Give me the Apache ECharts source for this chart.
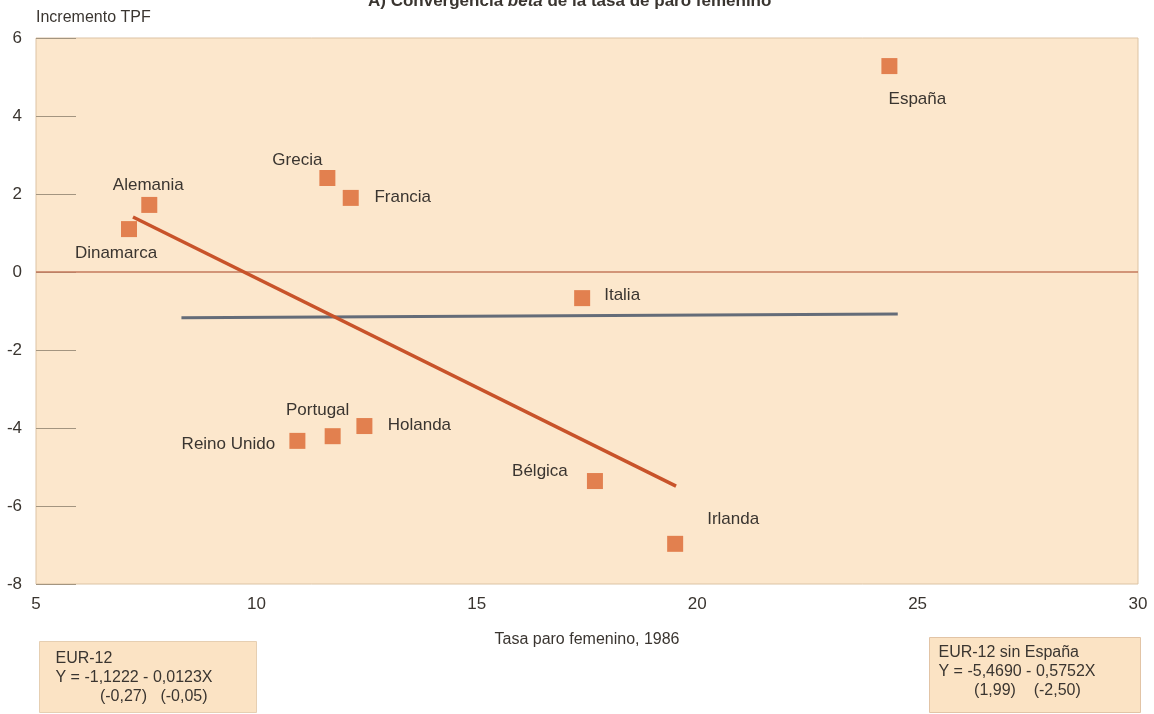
<!DOCTYPE html>
<html>
<head>
<meta charset="utf-8">
<script src="https://cdn.jsdelivr.net/npm/echarts@6/dist/echarts.min.js"></script>
<style>
html,body{margin:0;padding:0;background:#ffffff;}
#chart{width:1154px;height:714px;}
</style>
</head>
<body>
<div id="chart"></div>
<script>
// ---- data ----
const countries = ['España','Alemania','Dinamarca','Grecia','Francia','Italia','Portugal','Holanda','Reino Unido','Bélgica','Irlanda'];
const tasaParo1986 = [24.36, 7.57, 7.11, 11.61, 12.14, 17.39, 11.73, 12.45, 10.93, 17.68, 19.50];
const incrementoTPF = [5.28, 1.72, 1.10, 2.41, 1.90, -0.67, -4.21, -3.95, -4.33, -5.36, -6.97];

// regression lines as drawn (end points)
const lineEUR12_x = [8.30, 24.55];
const lineEUR12_y = [-1.17, -1.08];
const lineSinEsp_x = [7.20, 19.52];
const lineSinEsp_y = [1.41, -5.49];

const xTicks = [5, 10, 15, 20, 25, 30];
const yTicks = [-8, -6, -4, -2, 0, 2, 4, 6];

const boxEUR12 = ['EUR-12', 'Y = -1,1222 - 0,0123X', '          (-0,27)   (-0,05)'];
const boxSinEsp = ['EUR-12 sin España', 'Y = -5,4690 - 0,5752X', '        (1,99)    (-2,50)'];

// ---- label styling (offsets of each country label from its marker) ----
const labelOffsets = {
  'España': [28, 33], 'Alemania': [-1, -20], 'Dinamarca': [-13, 24], 'Grecia': [-30, -18],
  'Francia': [52, -1], 'Italia': [40, -3], 'Portugal': [-15, -26], 'Holanda': [55, -1],
  'Reino Unido': [-69, 3], 'Bélgica': [-55, -10], 'Irlanda': [58, -25]
};

const FONT = '"Liberation Sans", Arial, sans-serif';
const TXT = '#3a3530';

const scatterData = countries.map((c, i) => ({
  name: c,
  value: [tasaParo1986[i], incrementoTPF[i]],
  label: { show: true, position: 'inside', offset: labelOffsets[c], formatter: c }
}));

const chart = echarts.init(document.getElementById('chart'), null, { renderer: 'canvas' });

const option = {
  animation: false,
  backgroundColor: '#ffffff',
  textStyle: { fontFamily: FONT },
  title: {
    text: '{n|A) Convergencia }{i|beta}{n| de la tasa de paro femenino}',
    left: 363, top: -12,
    textStyle: {
      rich: {
        n: { fontSize: 17, fontWeight: 'bold', color: TXT, fontFamily: FONT },
        i: { fontSize: 17, fontWeight: 'bold', fontStyle: 'italic', color: TXT, fontFamily: FONT }
      }
    }
  },
  grid: {
    left: 36, right: 16, top: 38, bottom: 130,
    show: true, backgroundColor: '#fce7cc', borderColor: '#dcc3a4', borderWidth: 1
  },
  xAxis: {
    type: 'value', min: 5, max: 30, interval: 5,
    name: 'Tasa paro femenino, 1986', nameLocation: 'middle', nameGap: 48,
    nameTextStyle: { fontSize: 16, color: TXT, fontFamily: FONT },
    axisLine: { show: false }, axisTick: { show: false }, splitLine: { show: false },
    axisLabel: { fontSize: 17, color: TXT, margin: 12, fontFamily: FONT,
      formatter: v => xTicks.includes(v) ? String(v) : '' }
  },
  yAxis: {
    type: 'value', min: -8, max: 6, interval: 2,
    name: 'Incremento TPF', nameLocation: 'end', nameGap: 12,
    nameTextStyle: { fontSize: 16, color: TXT, align: 'left', fontFamily: FONT },
    axisLine: { show: false },
    axisTick: { show: true, inside: true, length: 40, lineStyle: { color: '#a39580', width: 1.2 } },
    splitLine: { show: false },
    axisLabel: { fontSize: 17, color: TXT, margin: 14, fontFamily: FONT,
      formatter: v => yTicks.includes(v) ? String(v) : '' }
  },
  series: [
    {
      type: 'line', name: 'cero', data: [[5, 0], [30, 0]], symbol: 'none', silent: true,
      lineStyle: { color: '#c47a5c', width: 1.6 }, z: 1
    },
    {
      type: 'line', name: 'EUR-12',
      data: lineEUR12_x.map((x, i) => [x, lineEUR12_y[i]]),
      symbol: 'none', lineStyle: { color: '#646c78', width: 3 }, z: 2
    },
    {
      type: 'line', name: 'EUR-12 sin España',
      data: lineSinEsp_x.map((x, i) => [x, lineSinEsp_y[i]]),
      symbol: 'none', lineStyle: { color: '#c8532a', width: 3.5 }, z: 3
    },
    {
      type: 'scatter', name: 'países', data: scatterData,
      symbol: 'rect', symbolSize: 16,
      itemStyle: { color: '#e2804f', opacity: 1 },
      label: { fontSize: 17, color: TXT, fontFamily: FONT },
      z: 4
    }
  ],
  graphic: [
    {
      type: 'group', left: 39, top: 641,
      children: [
        { type: 'rect', shape: { x: 0, y: 0, width: 217, height: 71 },
          style: { fill: '#fbe3c4', stroke: '#e6cfb2', lineWidth: 1 } },
        { type: 'text', left: 16, top: 8,
          style: { text: boxEUR12.join('\n'), font: '16px ' + FONT, fill: TXT, lineHeight: 19 } }
      ]
    },
    {
      type: 'group', left: 929, top: 637,
      children: [
        { type: 'rect', shape: { x: 0, y: 0, width: 211, height: 75 },
          style: { fill: '#fbe3c4', stroke: '#e2c4a6', lineWidth: 1 } },
        { type: 'text', left: 9, top: 6,
          style: { text: boxSinEsp.join('\n'), font: '16px ' + FONT, fill: TXT, lineHeight: 19 } }
      ]
    }
  ]
};
chart.setOption(option);
</script>
</body>
</html>
